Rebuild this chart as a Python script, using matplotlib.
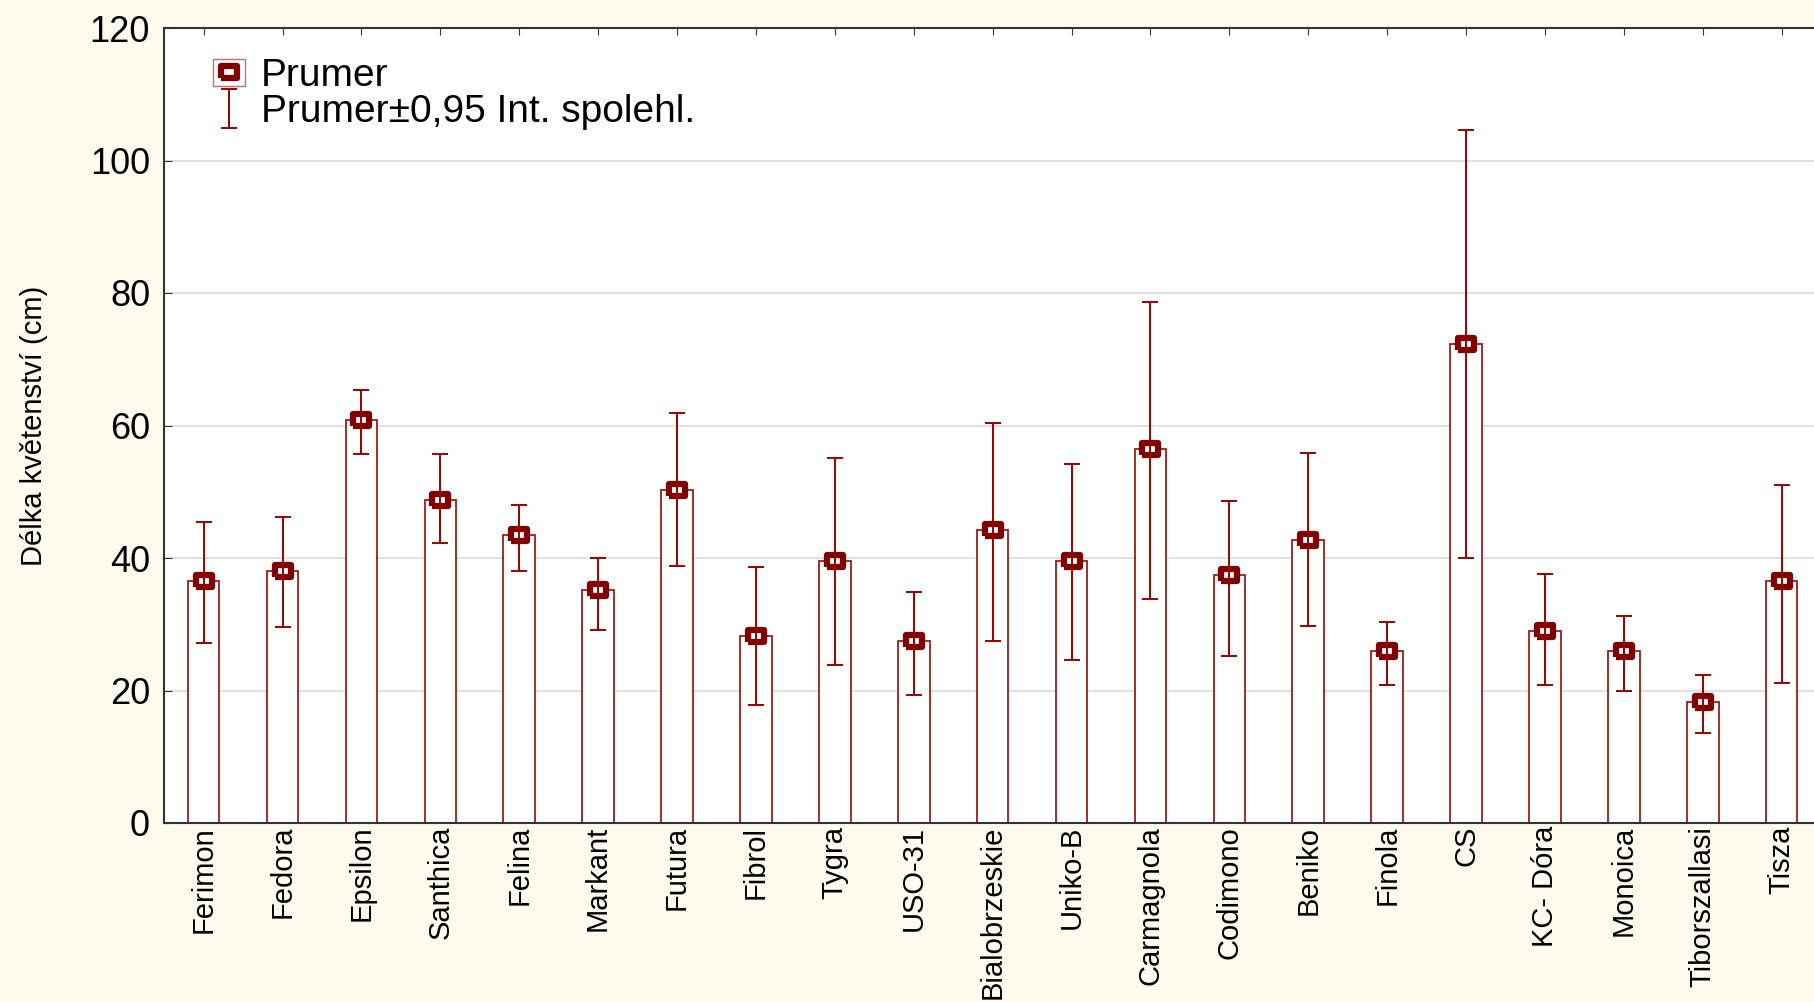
import numpy as np
import matplotlib
matplotlib.use("Agg")
import matplotlib.pyplot as plt
from matplotlib.markers import MarkerStyle
from matplotlib.patches import Rectangle
from matplotlib.lines import Line2D
from matplotlib.legend_handler import HandlerTuple

plt.rcParams['font.family'] = ['Liberation Sans', 'DejaVu Sans']

# data
odrudy = ['Ferimon', 'Fedora', 'Epsilon', 'Santhica', 'Felina', 'Markant', 'Futura',
          'Fibrol', 'Tygra', 'USO-31', 'Bialobrzeskie', 'Uniko-B', 'Carmagnola',
          'Codimono', 'Beniko', 'Finola', 'CS', 'KC- Dóra', 'Monoica',
          'Tiborszallasi', 'Tisza']
prumer = [36.6, 38.1, 60.9, 48.8, 43.4, 35.1, 50.3, 28.2, 39.6, 27.4, 44.2,
          39.6, 56.4, 37.4, 42.7, 26.0, 72.3, 29.0, 26.0, 18.3, 36.6]
dolni = [27.2, 29.6, 55.7, 42.2, 38.0, 29.2, 38.8, 17.8, 23.9, 19.3, 27.5,
         24.6, 33.8, 25.2, 29.8, 20.9, 40.0, 20.8, 19.9, 13.6, 21.2]
horni = [45.5, 46.2, 65.3, 55.7, 48.0, 40.0, 61.9, 38.7, 55.1, 34.8, 60.4,
         54.2, 78.6, 48.6, 55.9, 30.3, 104.6, 37.6, 31.3, 22.4, 51.0]
yticks = [0, 20, 40, 60, 80, 100, 120]

dark = '#800000'
edge = '#9b1c1c'

x = np.arange(len(odrudy))
m = np.array(prumer)
err = np.vstack([m - np.array(dolni), np.array(horni) - m])

fig = plt.figure(figsize=(18.14, 10.02), dpi=100, facecolor='#fffaee')
ax = fig.add_axes([164/1814, 1 - 823/1002, 1 - 164/1814, (823 - 28)/1002])
ax.set_facecolor('white')
ax.set_axisbelow(True)
ax.grid(axis='y', color='#dcdcdc', lw=1.2)

ax.bar(x, m, width=0.4, facecolor='white', edgecolor=edge, lw=1.3, zorder=2)

box = MarkerStyle([(-0.5, -0.37), (0.5, -0.37), (0.5, 0.37), (-0.5, 0.37), (-0.5, -0.37)],
                  joinstyle='round')
ln, = ax.plot(x, m, ls='none', marker=box, ms=12, mfc='white', mec=dark, mew=4.5,
              zorder=3)
eb = ax.errorbar(x, m, yerr=err, fmt='none', ecolor='#990000', elinewidth=1.4,
                 capsize=6, capthick=1.4, zorder=4)

ax.set_xlim(-0.502, 20.41)
ax.set_ylim(0, 120)
ax.set_yticks(yticks)
ax.set_xticks(x)
ax.set_xticklabels(odrudy, rotation=90, fontsize=21)
ax.tick_params(axis='y', direction='in', length=6, labelsize=26, pad=10, color='#333333')
ax.tick_params(axis='x', direction='in', length=5, top=True, pad=2, color='#333333')
for s in ['left', 'bottom', 'top']:
    ax.spines[s].set_color('#333333')
    ax.spines[s].set_linewidth(1.5)
ax.spines['right'].set_visible(False)

ax.set_ylabel('Délka květenství (cm)', fontsize=21)
ax.yaxis.set_label_coords(-0.07, 0.5)

rect = Rectangle((0, 0), 1, 1, facecolor='none', edgecolor='#c07070', lw=1)
mk = Line2D([], [], ls='none', marker=box, ms=12, mfc='white', mec=dark, mew=4.5)
ax.legend([(rect, mk), eb], ['Prumer', 'Prumer±0,95 Int. spolehl.'],
          handler_map={tuple: HandlerTuple(ndivide=1, pad=0)},
          loc='upper left', bbox_to_anchor=(0.0297, 0.962), frameon=False,
          fontsize=28, borderpad=0, borderaxespad=0, labelspacing=0.0,
          handlelength=0.82, handleheight=0.72, handletextpad=0.42)

fig.savefig('out.png', dpi=100, facecolor=fig.get_facecolor())
